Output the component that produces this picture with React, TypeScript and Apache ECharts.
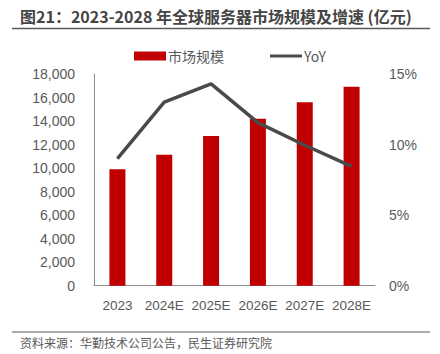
import React, { useEffect, useRef } from "react";
import * as echarts from "echarts";

const categories = ["2023", "2024E", "2025E", "2026E", "2027E", "2028E"];
const marketSize = [9900, 11140, 12730, 14200, 15600, 16920];
const yoy = [9.0, 13.0, 14.3, 11.55, 9.95, 8.45];
const leftTicks = { min: 0, max: 18000, interval: 2000 };
const rightTicks = { min: 0, max: 15, interval: 5 };

const TEXT = "#595959";
const CJK = "'Noto Sans CJK SC', 'Noto Sans', sans-serif";
const NUM = "'Liberation Sans', 'Noto Sans', sans-serif";

export default function App() {
  const ref = useRef<HTMLDivElement>(null);
  useEffect(() => {
    if (!ref.current) return;
    const chart = echarts.init(ref.current, undefined, { renderer: "svg" });
    chart.setOption({
      animation: false,
      backgroundColor: "#ffffff",
      graphic: [
        {
          type: "text",
          left: 20,
          top: 8,
          style: {
            text: "图21：2023-2028 年全球服务器市场规模及增速 (亿元)",
            font: `bold 16px ${CJK}`,
            fill: "#454545",
          },
        },
        {
          type: "line",
          shape: { x1: 12, y1: 28.5, x2: 430, y2: 28.5 },
          style: { stroke: "#595959", lineWidth: 1.5 },
        },
        {
          type: "line",
          shape: { x1: 12, y1: 332, x2: 430, y2: 332 },
          style: { stroke: "#595959", lineWidth: 1 },
        },
        {
          type: "text",
          left: 20,
          top: 336,
          style: {
            text: "资料来源：华勤技术公司公告，民生证券研究院",
            font: `12px ${CJK}`,
            fill: TEXT,
          },
        },
      ],
      legend: {
        left: 129,
        top: 44,
        itemGap: 46,
        itemWidth: 32,
        itemHeight: 9,
        textStyle: { color: TEXT, fontSize: 14, fontFamily: CJK, padding: [0, 0, 0, -3] },
        data: [
          { name: "市场规模", icon: "rect" },
          { name: "YoY", icon: "path://M0,0 L32,0 L32,3 L0,3 Z" },
        ],
      },
      grid: { left: 94, right: 65, top: 74, bottom: 68.3 },
      xAxis: {
        type: "category",
        data: categories,
        axisLine: { lineStyle: { color: "#8c8c8c", width: 1 } },
        axisTick: { show: false },
        axisLabel: { color: TEXT, fontSize: 13.5, fontFamily: NUM, margin: 13, interval: 0 },
      },
      yAxis: [
        {
          type: "value",
          ...leftTicks,
          axisLine: { show: true, lineStyle: { color: "#8c8c8c", width: 1 } },
          axisTick: { show: false },
          splitLine: { show: false },
          axisLabel: {
            color: TEXT,
            fontSize: 14,
            fontFamily: NUM,
            margin: 19,
            formatter: (v: number) => v.toLocaleString("en-US"),
          },
        },
        {
          type: "value",
          ...rightTicks,
          axisLine: { show: false },
          axisTick: { show: false },
          splitLine: { show: false },
          axisLabel: {
            color: TEXT,
            fontSize: 14,
            fontFamily: NUM,
            margin: 14,
            formatter: (v: number) => `${v}%`,
          },
        },
      ],
      series: [
        {
          name: "市场规模",
          type: "bar",
          data: marketSize,
          barWidth: 16,
          itemStyle: { color: "#C00000" },
        },
        {
          name: "YoY",
          type: "line",
          yAxisIndex: 1,
          data: yoy,
          symbol: "none",
          lineStyle: { color: "#4a4a4a", width: 3.5 },
          itemStyle: { color: "#4a4a4a" },
        },
      ],
    });
    return () => chart.dispose();
  }, []);
  return (
    <div
      ref={ref}
      style={{ position: "fixed", left: 0, top: 0, width: 440, height: 354 }}
    />
  );
}
